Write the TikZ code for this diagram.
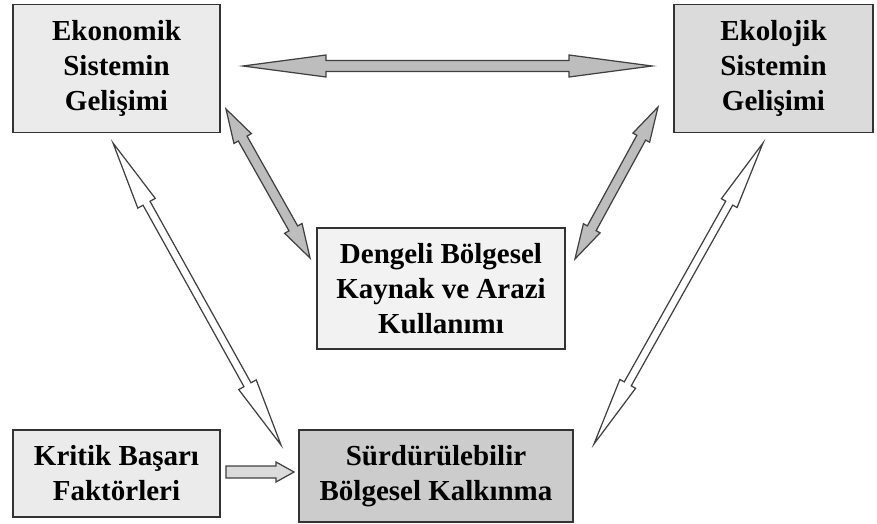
\documentclass[tikz,border=0pt]{standalone}
\usepackage{fontspec}
\setmainfont{Liberation Serif}
\usetikzlibrary{calc}
\definecolor{acik}{gray}{0.92}
\definecolor{orta}{gray}{0.86}
\definecolor{cokacik}{gray}{0.95}
\definecolor{koyu}{gray}{0.80}
\definecolor{okgri}{gray}{0.74}
\def\birim{0.02cm}
% #1 style, #2 from, #3 to, #4 head length, #5 head half width, #6 shaft half width
\newcommand{\ciftok}[6][]{%
	\draw[ok,#1] (#2)
	--($(#2)!#4*\birim!(#3)!#5*\birim!90:(#3)$)
	--($(#2)!#4*\birim!(#3)!#6*\birim!90:(#3)$)
	--($(#3)!#4*\birim!(#2)!#6*\birim!-90:(#2)$)
	--($(#3)!#4*\birim!(#2)!#5*\birim!-90:(#2)$)
	--(#3)
	--($(#3)!#4*\birim!(#2)!#5*\birim!90:(#2)$)
	--($(#3)!#4*\birim!(#2)!#6*\birim!90:(#2)$)
	--($(#2)!#4*\birim!(#3)!#6*\birim!-90:(#3)$)
	--($(#2)!#4*\birim!(#3)!#5*\birim!-90:(#3)$)
	--cycle;}
\tikzset{
	kutu/.style={draw=black!80, line width=1.1pt, align=center, inner sep=0pt,
		font=\bfseries\fontsize{16.5}{20}\selectfont},
	ok/.style={draw=black!75, line width=0.7pt, line join=miter}
}
\begin{document}
\begin{tikzpicture}[x=0.02cm, y=-0.02cm, line cap=round]
	\path[use as bounding box] (0,0) rectangle (877,524);
	% kutular
	\node[kutu, fill=acik, minimum width=207*\birim, minimum height=128*\birim] (eko) at (116.5,68.5) {Ekonomik\\Sistemin\\Gelişimi};
	\node[kutu, fill=orta, minimum width=199*\birim, minimum height=128*\birim] (ekol) at (773.5,68.5) {Ekolojik\\Sistemin\\Gelişimi};
	\node[kutu, fill=cokacik, minimum width=248*\birim, minimum height=121*\birim] (deng) at (441,288.5) {Dengeli Bölgesel\\Kaynak ve Arazi\\Kullanımı};
	\node[kutu, fill=acik, minimum width=207*\birim, minimum height=87*\birim] (krit) at (116.5,473.5) {Kritik Başarı\\Faktörleri};
	\node[kutu, fill=koyu, minimum width=274*\birim, minimum height=92*\birim] (surd) at (436,476) {Sürdürülebilir\\Bölgesel Kalkınma};
	% ok uclari
	\path ($(eko.east)+(22,-2.5)$) coordinate (h1) ($(ekol.west)+(-21,-2.5)$) coordinate (h2)
	($(eko.south east)+(5,-24.5)$) coordinate (gl1) ($(deng.west)+(-6,-30.5)$) coordinate (gl2)
	($(ekol.south west)+(-15,-26.5)$) coordinate (gr1) ($(deng.east)+(9,-29.5)$) coordinate (gr2)
	($(eko.south)+(-3.5,9.5)$) coordinate (wl1) ($(surd.north west)+(-17,16)$) coordinate (wl2)
	($(ekol.south)+(-10.5,9.5)$) coordinate (wr1) ($(surd.north east)+(20,15)$) coordinate (wr2)
	($(krit.east)+(5,-1.5)$) coordinate (k1) ($(surd.west)+(-4,-4)$) coordinate (k2);
	% oklar
	\ciftok[fill=okgri]{h1}{h2}{83}{11}{5.5}
	\ciftok[fill=okgri]{gl1}{gl2}{34}{10}{5}
	\ciftok[fill=okgri]{gr1}{gr2}{35}{9.5}{5}
	\ciftok[fill=white]{wl1}{wl2}{69}{10}{4}
	\ciftok[fill=white]{wr1}{wr2}{69}{9}{4}
	\draw[ok, fill=orta] (k1) --++(0,-6) --($(k2)+(-18,-6)$) --++(0,-4) --(k2)
	--($(k2)+(-18,10)$) --++(0,-4) --($(k1)+(0,6)$) --cycle;
\end{tikzpicture}
\end{document}
